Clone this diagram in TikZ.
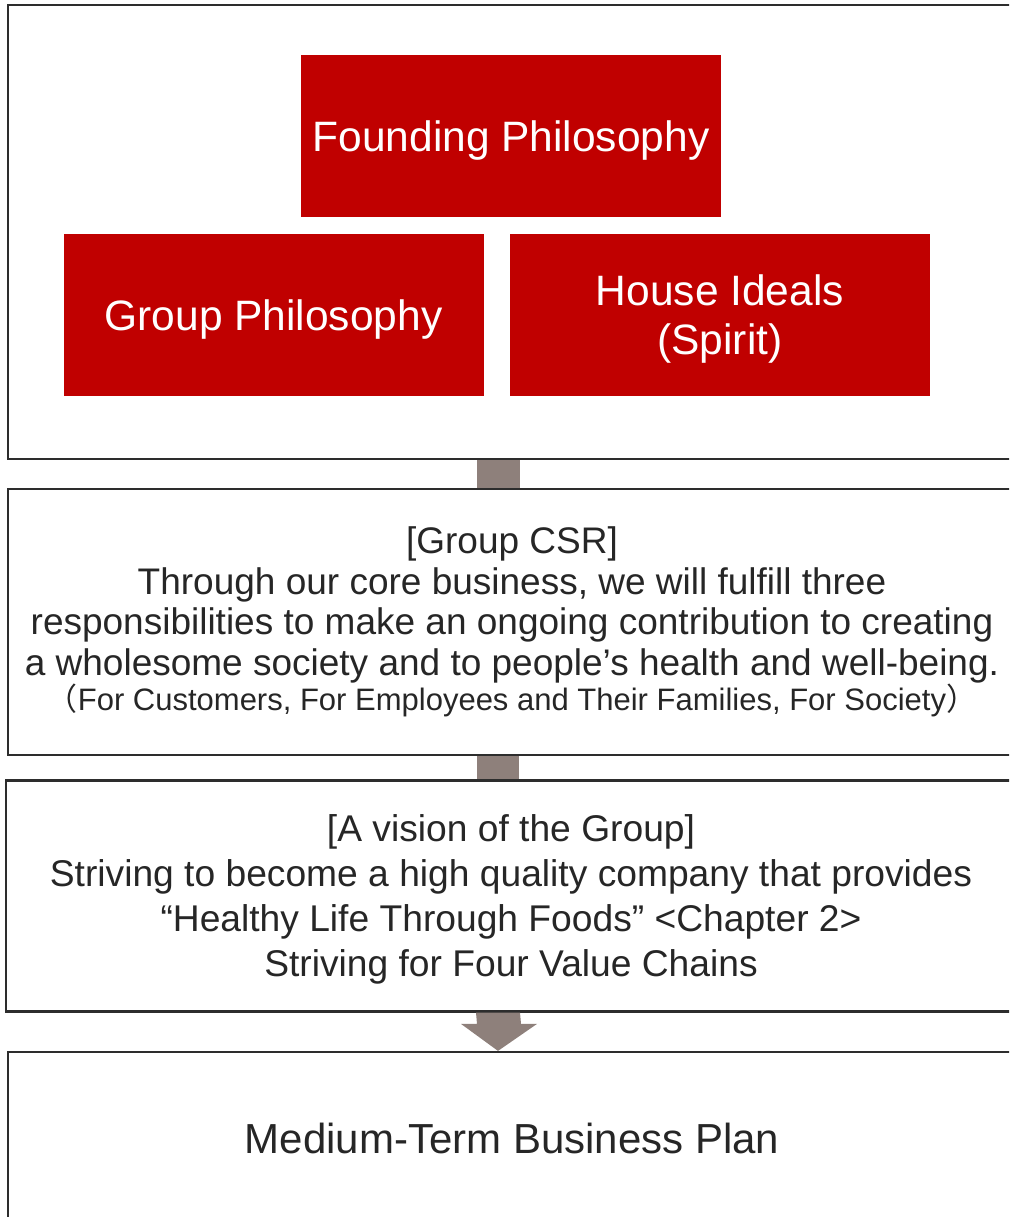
\documentclass[tikz,border=0pt]{standalone}
\usepackage{fontspec}
\setmainfont{Liberation Sans}
\newfontfamily\cjk{Noto Sans CJK JP}
\usepackage{tikz}
\usetikzlibrary{positioning, calc}

\definecolor{philred}{RGB}{192,0,0}
\definecolor{linkgray}{RGB}{142,128,123}
\definecolor{framegray}{RGB}{45,45,45}
\definecolor{textgray}{RGB}{38,38,38}

\begin{document}
\begin{tikzpicture}[x=1pt,y=-1pt,
			red box/.style={fill=philred,text=white,minimum width=420pt,minimum height=162pt,
				inner sep=0pt,align=center,text depth=0pt,font=\fontsize{42.5}{49}\selectfont},
			frame/.style={draw=framegray,line width=2.2pt,inner sep=0pt,align=center,text=textgray},
			link/.style={fill=linkgray}]
			
			\useasboundingbox (0,0) rectangle (1009,1217);
			\clip (0,0) rectangle (1009,1217);
			
			% outer frames, running off the right edge
			\node[frame,minimum width=1008pt,minimum height=454pt] (top) at (512,232) {};
			\node[frame,minimum width=1008pt,minimum height=266pt,
				font=\fontsize{37}{40.5}\selectfont] (csr) at (512,622)
				{[Group CSR]\\Through our core business, we will fulfill three\\
				responsibilities to make an ongoing contribution to creating\\
				a wholesome society and to people’s health and well-being.\\[-5.5pt]
				{\fontsize{31}{35}\selectfont{\cjk （}For Customers, For Employees and Their Families, For Society{\cjk ）}}};
			\node[frame,minimum width=1010pt,minimum height=231pt,text depth=0pt,
				font=\fontsize{37.2}{45}\selectfont] (vision) at (511,896)
				{[A vision of the Group]\\Striving to become a high quality company that provides\\
				“Healthy Life Through Foods” <Chapter 2>\\Striving for Four Value Chains};
			\node[frame,minimum width=1008pt,minimum height=172pt,
				font=\fontsize{42}{49}\selectfont] (plan) at (512,1138) {Medium-Term Business Plan};
			
			% philosophy boxes
			\node[red box] (founding) at (511,136) {Founding Philosophy};
			\node[red box] (group) at (273.5,315) {Group Philosophy};
			\node[red box] (house) [right=26pt of group] {House Ideals\\(Spirit)};
			
			% links between frames
			\fill[link] ([xshift=-35.5pt]top.south) rectangle ([xshift=8pt]csr.north);
			\fill[link] ([xshift=-35.5pt]csr.south) rectangle ([xshift=8pt]vision.north);
			\fill[link] ([xshift=-35pt]vision.south) -- ([xshift=9pt]vision.south)
				-- ([xshift=9pt,yshift=27pt]plan.north) -- ([xshift=25pt,yshift=27pt]plan.north)
				-- ([xshift=-14pt]plan.north) -- ([xshift=-51pt,yshift=27pt]plan.north)
				-- ([xshift=-35pt,yshift=27pt]plan.north) -- cycle;
		\end{tikzpicture}
\end{document}
